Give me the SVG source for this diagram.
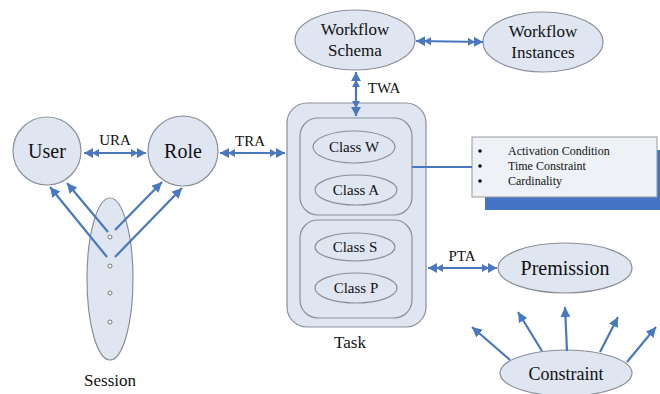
<svg xmlns="http://www.w3.org/2000/svg" width="660" height="394" viewBox="0 0 660 394">
<style>
.n{fill:#dfe6f1;stroke:#8a8f99;stroke-width:1.2}
text{font-family:'Liberation Serif','Times New Roman',serif;fill:#111}
.t{text-anchor:middle}
.c{stroke:#4a78bf;stroke-width:2.2;fill:none}
.s{marker-end:url(#a1)}
.d{marker-start:url(#a2);marker-end:url(#a2)}
</style>
<defs>
<marker id="a1" markerUnits="userSpaceOnUse" markerWidth="14" markerHeight="12" refX="10" refY="5" orient="auto"><path d="M0,0 L10,5 L0,10 z" fill="#4a78bf"/></marker>
<marker id="a2" markerUnits="userSpaceOnUse" markerWidth="18" markerHeight="12" refX="15" refY="5" orient="auto-start-reverse"><path d="M6,0 L15,5 L6,10 z M0,1 L7,5 L0,9 z" fill="#4a78bf"/></marker>
</defs>
<rect width="660" height="394" fill="#fff"/>
<g id="user"><circle class="n" cx="47" cy="151" r="34"/><text class="t" x="47" y="158" font-size="20">User</text></g>
<g id="role"><circle class="n" cx="183" cy="151" r="35"/><text class="t" x="183" y="158" font-size="20">Role</text></g>
<g id="session"><ellipse class="n" cx="110" cy="279" rx="23" ry="81"/>
<circle cx="110" cy="237" r="2" fill="#fff" stroke="#777"/><circle cx="110" cy="266" r="2" fill="#fff" stroke="#777"/><circle cx="110" cy="293" r="2" fill="#fff" stroke="#777"/><circle cx="110" cy="322" r="2" fill="#fff" stroke="#777"/>
<text class="t" x="110" y="386" font-size="17">Session</text></g>
<g id="workflow-schema"><ellipse class="n" cx="355" cy="40" rx="60" ry="30"/><text class="t" x="355" y="35" font-size="17">Workflow</text><text class="t" x="355" y="56" font-size="17">Schema</text></g>
<g id="workflow-instances"><ellipse class="n" cx="543" cy="42" rx="60" ry="30"/><text class="t" x="543" y="37" font-size="17">Workflow</text><text class="t" x="543" y="58" font-size="17">Instances</text></g>
<g id="task">
<rect class="n" x="287" y="103" width="139" height="224" rx="20"/>
<rect class="n" x="300" y="118" width="112" height="97" rx="18"/>
<rect class="n" x="300" y="220" width="112" height="98" rx="18"/>
<ellipse class="n" cx="354" cy="147" rx="41" ry="16"/><text class="t" x="354" y="152" font-size="15">Class W</text>
<ellipse class="n" cx="356" cy="190" rx="41" ry="15"/><text class="t" x="356" y="195" font-size="15">Class A</text>
<ellipse class="n" cx="355" cy="247" rx="40" ry="14"/><text class="t" x="355" y="252" font-size="15">Class S</text>
<ellipse class="n" cx="356" cy="288" rx="41" ry="15"/><text class="t" x="356" y="293" font-size="15">Class P</text>
<text class="t" x="350" y="348" font-size="17">Task</text>
</g>
<g id="conditions">
<rect x="485" y="150" width="175" height="60" fill="#4472c4"/>
<rect x="472" y="137" width="185" height="60" fill="#eef1f6" stroke="#999" stroke-width="1"/>
<circle cx="480" cy="151" r="1.8" fill="#111"/><circle cx="480" cy="166" r="1.8" fill="#111"/><circle cx="480" cy="181" r="1.8" fill="#111"/>
<text x="508" y="155" font-size="12">Activation Condition</text>
<text x="508" y="170" font-size="12">Time Constraint</text>
<text x="508" y="185" font-size="12">Cardinality</text>
</g>
<g id="premission"><ellipse class="n" cx="565" cy="268" rx="67" ry="25"/><text class="t" x="565" y="275" font-size="20">Premission</text></g>
<g id="constraint"><ellipse class="n" cx="566" cy="373" rx="66" ry="23"/><text class="t" x="566" y="380" font-size="18">Constraint</text></g>
<g id="connectors">
<line class="c d" x1="84" y1="153" x2="146" y2="153"/>
<line class="c d" x1="220" y1="153" x2="285" y2="153"/>
<line class="c d" x1="416" y1="41" x2="483" y2="42"/>
<line class="c d" x1="356" y1="72" x2="356" y2="116"/>
<line class="c d" x1="428" y1="268" x2="497" y2="268"/>
<line class="c" x1="412" y1="167" x2="472" y2="167"/>
<line class="c s" x1="108" y1="232" x2="67" y2="183"/>
<line class="c s" x1="107" y1="257" x2="50" y2="187"/>
<line class="c s" x1="115" y1="230" x2="162" y2="182"/>
<line class="c s" x1="115" y1="257" x2="182" y2="188"/>
<line class="c s" x1="510" y1="360" x2="472" y2="327"/>
<line class="c s" x1="542" y1="351" x2="518" y2="312"/>
<line class="c s" x1="567" y1="351" x2="565" y2="307"/>
<line class="c s" x1="600" y1="352" x2="618" y2="317"/>
<line class="c s" x1="627" y1="362" x2="656" y2="327"/>
<text class="t" x="115" y="145" font-size="15">URA</text>
<text class="t" x="250" y="146" font-size="15">TRA</text>
<text class="t" x="384" y="93" font-size="15">TWA</text>
<text class="t" x="462" y="261" font-size="15">PTA</text>
</g>
</svg>
